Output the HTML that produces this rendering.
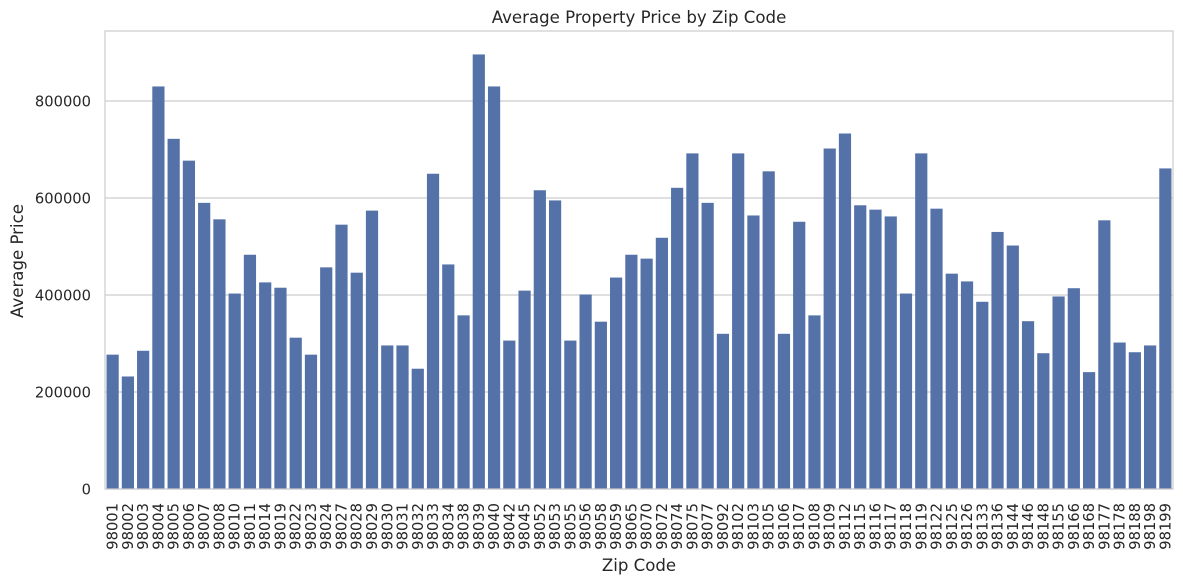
<!DOCTYPE html>
<html><head><meta charset="utf-8"><style>
body{margin:0;background:#fff;}
svg{display:block;font-family:"DejaVu Sans","Liberation Sans",sans-serif;}
</style></head><body>
<svg id="chart" width="1183" height="584" viewBox="0 0 1183 584" xmlns="http://www.w3.org/2000/svg">
<text x="639" y="23" text-anchor="middle" font-size="16.6" fill="#262626">Average Property Price by Zip Code</text>
<text transform="translate(23,261) rotate(-90)" text-anchor="middle" font-size="16.6" fill="#262626">Average Price</text>
<text x="639" y="571" text-anchor="middle" font-size="16.6" fill="#262626">Zip Code</text>
<g id="grid"></g><g id="bars"></g><g id="yticks"></g><g id="xticks"></g>
<rect x="105" y="31" width="1068" height="458" fill="none" stroke="#cccccc" stroke-width="1.2"/>
</svg>
<script>
const zips=["98001","98002","98003","98004","98005","98006","98007","98008","98010","98011","98014","98019","98022","98023","98024","98027","98028","98029","98030","98031","98032","98033","98034","98038","98039","98040","98042","98045","98052","98053","98055","98056","98058","98059","98065","98070","98072","98074","98075","98077","98092","98102","98103","98105","98106","98107","98108","98109","98112","98115","98116","98117","98118","98119","98122","98125","98126","98133","98136","98144","98146","98148","98155","98166","98168","98177","98178","98188","98198","98199"];
const prices=[277000,232000,285000,830000,722000,677000,590000,556000,403000,483000,426000,415000,312000,277000,457000,545000,446000,574000,296000,296000,248000,650000,463000,358000,896000,830000,306000,409000,616000,595000,306000,401000,345000,436000,483000,475000,518000,621000,692000,590000,320000,692000,564000,655000,320000,551000,358000,702000,733000,585000,576000,562000,403000,692000,578000,444000,428000,386000,530000,502000,346000,280000,397000,414000,241000,554000,302000,282000,296000,661000];
const yTicks=[0,200000,400000,600000,800000];
const NS="http://www.w3.org/2000/svg";
const L=105,R=1173,T=31,B=489;
const y=v=>B-(v/800000)*(B-101);
const band=(R-L)/zips.length;
const x=i=>L+band*i;
const mk=(t,a)=>{const e=document.createElementNS(NS,t);for(const k in a)e.setAttribute(k,a[k]);return e;};
yTicks.forEach(v=>{
 const g=mk("line",{x1:L,x2:R,y1:y(v),y2:y(v),stroke:"#cccccc","stroke-width":1.2});
 
 
 document.getElementById("grid").appendChild(g);
 const t=mk("text",{x:L-14,y:y(v)+5.5,"text-anchor":"end","font-size":14.7,fill:"#262626"});
 
 
 t.textContent=v;document.getElementById("yticks").appendChild(t);
});
zips.forEach((z,i)=>{
 const r=mk("rect",{x:x(i)+band*0.1,y:y(prices[i]),width:band*0.8,height:B-y(prices[i]),fill:"#5572a8"});
 
 
 document.getElementById("bars").appendChild(r);
 const cx=x(i)+band/2+5;
 const t=mk("text",{transform:`translate(${cx},503) rotate(-90)`,"text-anchor":"end","font-size":14.7,fill:"#262626"});
 
 
 t.textContent=z;document.getElementById("xticks").appendChild(t);
});
</script>
</body></html>
